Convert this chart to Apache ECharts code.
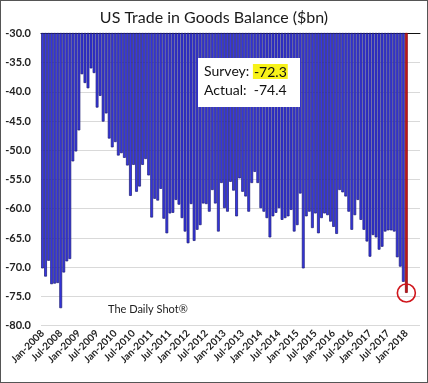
<!DOCTYPE html>
<html><head><meta charset="utf-8">
<script src="https://cdn.jsdelivr.net/npm/echarts@6/dist/echarts.min.js"></script>
<style>html,body{margin:0;padding:0;background:#fff}#c{width:428px;height:383px;position:relative}#f{position:absolute;left:0;top:0;width:428px;height:383px;box-sizing:border-box;border:1px solid #555;pointer-events:none}</style>
</head><body><div id="c"></div><div id="f"></div>
<script>
var months = ['Jan','Feb','Mar','Apr','May','Jun','Jul','Aug','Sep','Oct','Nov','Dec'];
var categories = [];
for (var y = 2008; y <= 2018; y++) { for (var m = 0; m < 12; m++) { if (y === 2018 && m > 0) break; categories.push(months[m] + '-' + y); } }
var padCategories = ['', '', '', ''];
var balance = [
 -70.2,-71.6,-68.9,-72.9,-72.8,-72.7,-77.0,-70.9,-69.0,-68.6,-51.9,-50.2,
 -46.6,-37.0,-38.5,-39.4,-36.0,-36.8,-42.7,-40.7,-45.1,-43.7,-48.0,-49.5,
 -48.6,-50.9,-50.5,-51.3,-52.6,-57.8,-52.5,-57.1,-56.2,-52.5,-51.5,-54.3,
 -61.5,-58.3,-58.6,-56.6,-61.7,-64.2,-60.8,-60.7,-58.5,-59.3,-61.6,-63.9,
 -65.9,-59.2,-65.5,-63.6,-62.8,-59.1,-59.2,-60.5,-56.8,-59.1,-63.9,-55.6,
 -59.9,-60.5,-55.4,-56.9,-61.3,-54.8,-57.1,-57.9,-60.5,-55.6,-53.7,-55.6,
 -59.9,-60.5,-61.6,-64.9,-61.3,-60.7,-59.9,-61.9,-61.6,-61.3,-60.2,-63.9,
 -62.8,-57.4,-70.2,-61.3,-60.5,-63.3,-60.8,-64.2,-61.6,-60.8,-61.1,-62.2,
 -63.1,-64.3,-56.8,-57.2,-57.9,-60.5,-63.6,-61.1,-58.5,-61.9,-63.6,-65.6,
 -68.2,-64.5,-64.9,-67.0,-66.5,-63.9,-63.7,-63.7,-63.9,-68.3,-69.9,-72.5,
 -74.4
];
var survey = -72.3;
var actual = -74.4;
var yTicks = { min: -80, max: -30, step: 5 };

var allCats = categories.concat(padCategories);
var lastIdx = balance.length - 1;
var seriesData = balance.map(function (v, i) {
  if (i === lastIdx) return { value: v, itemStyle: { color: '#c4161c', borderColor: '#8a0b10', borderWidth: 0.8 } };
  return v;
});

var chart = echarts.init(document.getElementById('c'), null, { renderer: 'canvas' });
var FONT = 'Lato';
chart.setOption({
  animation: false,
  backgroundColor: '#fff',
  title: { text: 'US Trade in Goods Balance ($bn)', left: 'center', top: 5,
    textStyle: { fontFamily: FONT, fontSize: 16, fontWeight: 'normal', color: '#1a1a1a' } },
  grid: { left: 41, right: 8, top: 33.3, bottom: 57.3, containLabel: false },
  xAxis: [{
    type: 'category', data: allCats, position: 'bottom', boundaryGap: true,
    axisLine: { show: false }, axisTick: { show: false },
    axisLabel: { rotate: 45, fontFamily: FONT, fontSize: 10, fontWeight: 'bold', color: '#222', margin: 6,
      interval: function (i, v) { return i % 6 === 0 && v !== ''; } },
    splitLine: { show: false }
  }, {
    type: 'category', data: allCats, position: 'top',
    axisLine: { show: true, onZero: false, lineStyle: { color: '#111', width: 1 } },
    axisTick: { show: false }, axisLabel: { show: false }, splitLine: { show: false }
  }],
  yAxis: {
    type: 'value', min: yTicks.min, max: yTicks.max, interval: yTicks.step,
    axisLine: { show: false }, axisTick: { show: false },
    axisLabel: { fontFamily: FONT, fontSize: 11, fontWeight: 'bold', color: '#222', margin: 10,
      formatter: function (v) { return v.toFixed(1); } },
    splitLine: { show: true, lineStyle: { color: '#d9d9d9', width: 1 } }
  },
  series: [{
    type: 'bar', xAxisIndex: 0, data: seriesData, clip: true,
    barCategoryGap: '8%',
    itemStyle: { color: '#3636e2', borderColor: '#1b1b72', borderWidth: 0.7 },
    markPoint: {
      symbol: 'circle', symbolSize: 18,
      itemStyle: { color: 'rgba(0,0,0,0)', borderColor: '#d0161c', borderWidth: 1.6 },
      label: { show: false },
      data: [{ coord: [lastIdx, actual] }]
    }
  }],
  graphic: [
    { type: 'rect', left: 198, top: 58, shape: { width: 102, height: 49 }, style: { fill: '#fff' }, z: 100 },
    { type: 'text', left: 204, top: 64, z: 101,
      style: { text: '{a|Survey: }{h|' + survey.toFixed(1) + '}', rich: {
        a: { fontFamily: FONT, fontSize: 14, fill: '#111' },
        h: { fontFamily: FONT, fontSize: 14, fill: '#111', backgroundColor: '#f7f21a', padding: [1, 1, 0, 1] } } } },
    { type: 'text', left: 204, top: 83, z: 101,
      style: { text: 'Actual:  ' + actual.toFixed(1), fontFamily: FONT, fontSize: 14, fill: '#111' } },
    { type: 'text', left: 108, top: 304, z: 101,
      style: { text: 'The Daily Shot\u00ae', fontFamily: FONT, fontSize: 11, fill: '#222' } }
  ]
});
</script></body></html>
